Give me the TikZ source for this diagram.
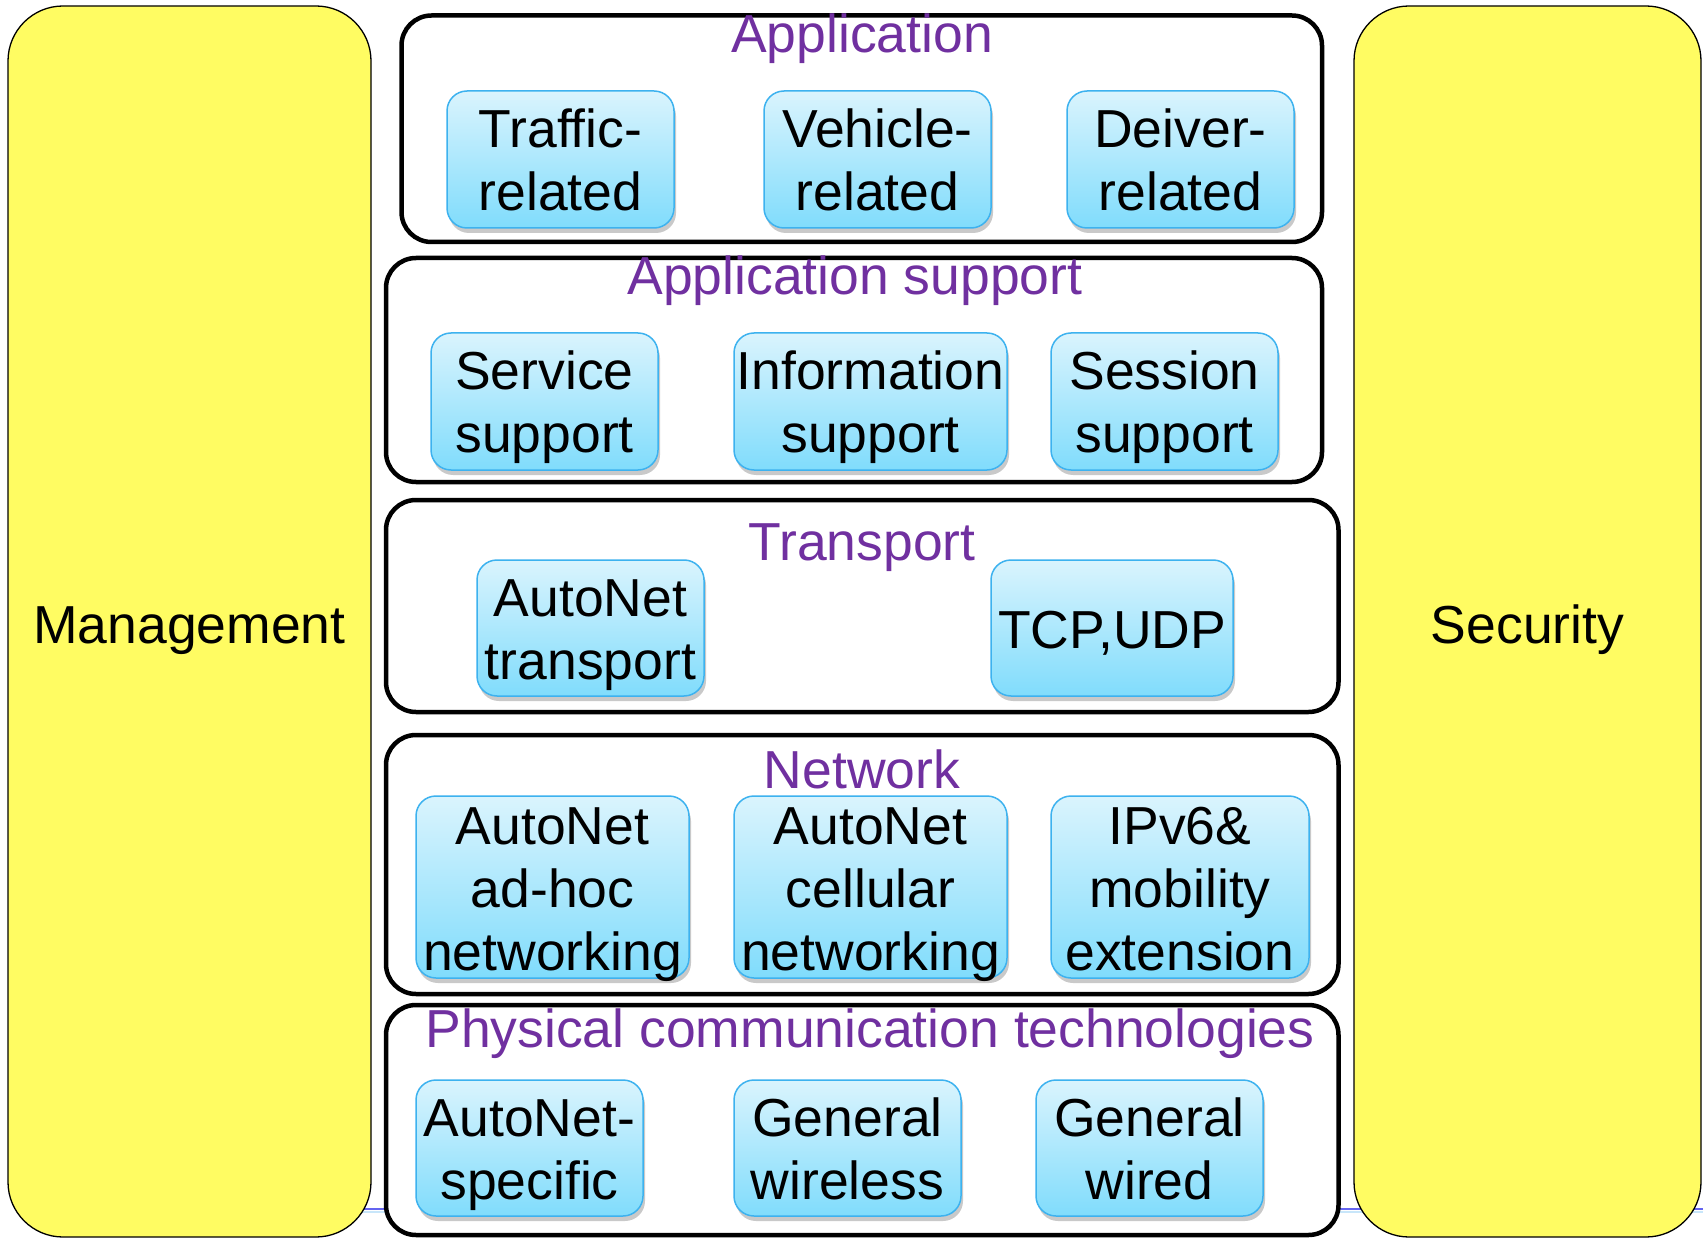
\documentclass[tikz,border=0pt]{standalone}
\usepackage{fontspec}
\setmainfont{Liberation Sans}
\usetikzlibrary{shadows}

\definecolor{sideyellow}{HTML}{FFFC62}
\definecolor{layerpurple}{HTML}{7030A0}
\definecolor{boxtop}{HTML}{DAF4FD}
\definecolor{boxbottom}{HTML}{80DCFC}
\definecolor{boxline}{HTML}{3DB2EF}
\definecolor{ruledark}{HTML}{6464F0}
\definecolor{rulelight}{HTML}{C8E6FA}

\newcommand{\stacktext}{\fontsize{53.5}{63}\selectfont}

\tikzset{
  sidebar/.style={draw=black, line width=1.3pt, fill=sideyellow,
    rounded corners=55pt, inner sep=0pt, font=\stacktext,
    text height=43pt, text depth=0pt},
  layerbox/.style={draw=black, line width=4.5pt, fill=white,
    rounded corners=30pt, inner sep=0pt},
  layertitle/.style={text=layerpurple, font=\stacktext, anchor=base, inner sep=0pt},
  itembox/.style={draw=boxline, line width=1.5pt, top color=boxtop,
    bottom color=boxbottom, rounded corners=20pt, inner sep=0pt,
    align=center, font=\stacktext, text depth=0pt,
    drop shadow={shadow xshift=2pt, shadow yshift=-5pt,
      fill=black!60, opacity=0.35}},
  % the text block sits on its last baseline: cap height plus one step per extra line
  lines1/.style={text height=40pt},
  lines2/.style={text height=103pt},
  lines3/.style={text height=166pt},
}

\begin{document}
\begin{tikzpicture}[x=1pt, y=-1pt]
  \useasboundingbox (0,0) rectangle (1703,1238);
  \fill[white] (0,0) rectangle (1703,1238);

  % footer rule running behind the stack
  \draw[ruledark, line width=2.5pt] (340,1209) -- (1703,1209);
  \draw[rulelight, line width=2.5pt] (340,1212) -- (1703,1212);

  % side pillars
  \node[sidebar, minimum width=363pt, minimum height=1231pt] (mgmt) at (189.5,621.5) {Management};
  \node[sidebar, minimum width=347pt, minimum height=1231pt] (sec) at (1527.5,621.5) {Security};

  % layer frames
  \node[layerbox, minimum width=920.5pt, minimum height=226.5pt] (app) at (861.75,128.75) {};
  \node[layerbox, minimum width=936pt, minimum height=224pt] (sup) at (854,370) {};
  \node[layerbox, minimum width=952.5pt, minimum height=212pt] (trn) at (862.25,606) {};
  \node[layerbox, minimum width=952.5pt, minimum height=259pt] (net) at (862.25,864.5) {};
  \node[layerbox, minimum width=952.5pt, minimum height=230pt] (phy) at (862.25,1120) {};

  % layer titles
  \node[layertitle] (appT) at (862,53) {Application};
  \node[layertitle] (supT) at (855,295) {Application support};
  \node[layertitle] (trnT) at (862,560) {Transport};
  \node[layertitle] (netT) at (862,788) {Network};
  \node[layertitle] (phyT) at (870,1047) {Physical communication technologies};

  % Application
  \node[itembox, lines2, minimum width=227pt, minimum height=137pt] (traffic) at (560.5,159.5) {Traffic-\\related};
  \node[itembox, lines2, minimum width=227pt, minimum height=137pt] (vehicle) at (877.5,159.5) {Vehicle-\\related};
  \node[itembox, lines2, minimum width=227pt, minimum height=137pt] (driver) at (1180.5,159.5) {Deiver-\\related};

  % Application support
  \node[itembox, lines2, minimum width=227pt, minimum height=137pt] (service) at (544.5,401.5) {Service\\support};
  \node[itembox, lines2, minimum width=273pt, minimum height=137pt] (info) at (870.5,401.5) {Information\\support};
  \node[itembox, lines2, minimum width=227pt, minimum height=137pt] (session) at (1164.5,401.5) {Session\\support};

  % Transport
  \node[itembox, lines2, minimum width=227pt, minimum height=136pt] (antrans) at (590.5,628) {AutoNet\\transport};
  \node[itembox, lines1, minimum width=242pt, minimum height=136pt] (tcpudp) at (1112,628) {TCP,UDP};

  % Network
  \node[itembox, lines3, minimum width=273pt, minimum height=182pt] (adhoc) at (552.5,887) {AutoNet\\ad-hoc\\networking};
  \node[itembox, lines3, minimum width=273pt, minimum height=182pt] (cell) at (870.5,887) {AutoNet\\cellular\\networking};
  \node[itembox, lines3, minimum width=258pt, minimum height=182pt] (ipv6) at (1180,887) {IPv6\&\\mobility\\extension};

  % Physical communication technologies
  \node[itembox, lines2, minimum width=227pt, minimum height=136pt] (anspec) at (529.5,1148) {AutoNet-\\specific};
  \node[itembox, lines2, minimum width=227pt, minimum height=136pt] (wireless) at (847.5,1148) {General\\wireless};
  \node[itembox, lines2, minimum width=227pt, minimum height=136pt] (wired) at (1149.5,1148) {General\\wired};
\end{tikzpicture}
\end{document}
